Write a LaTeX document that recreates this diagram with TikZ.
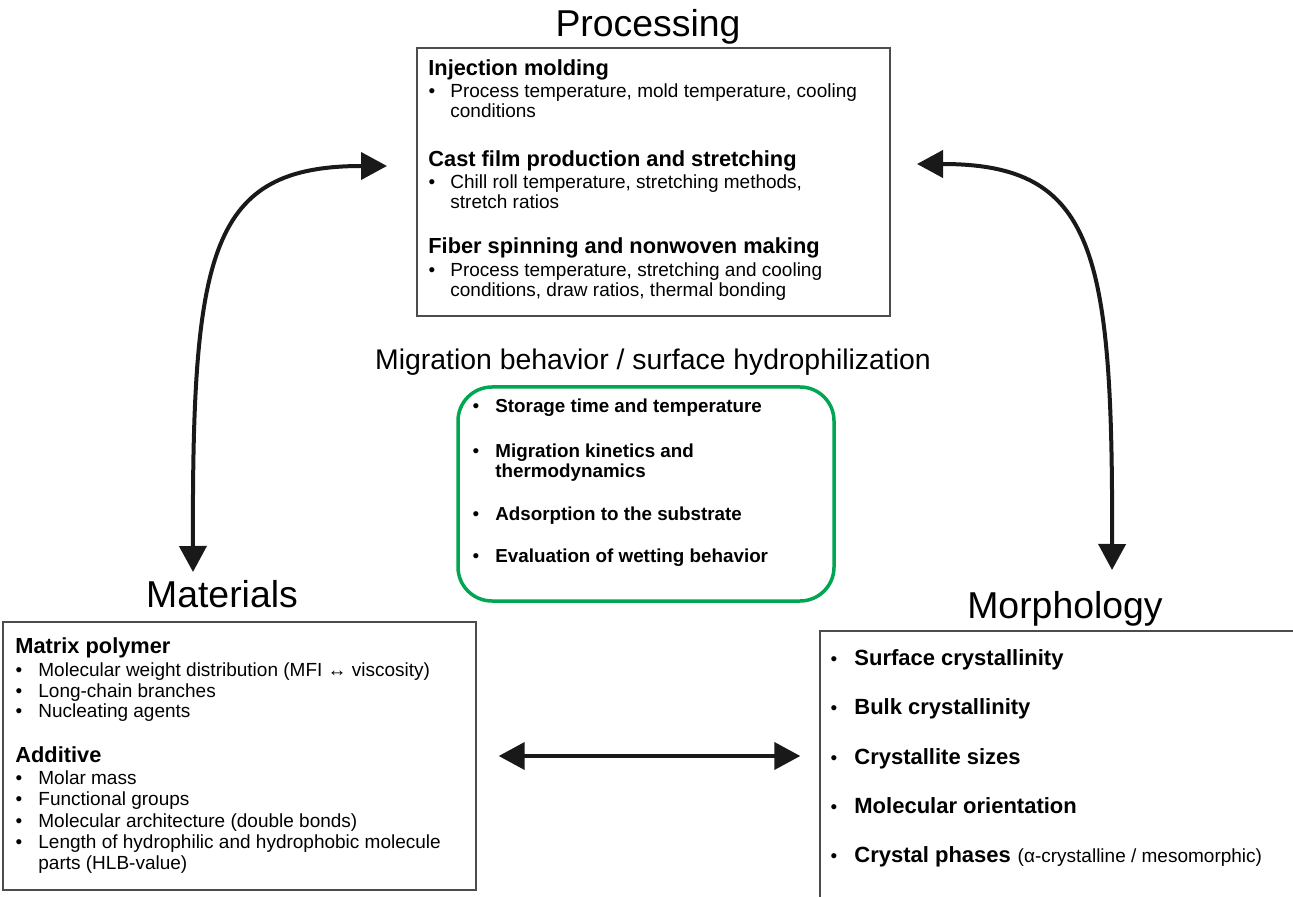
\documentclass[tikz,border=0pt]{standalone}
\usepackage{fontspec}
\setmainfont{Liberation Sans}
\usetikzlibrary{arrows.meta,positioning,fit}
\definecolor{migrgreen}{RGB}{0,166,81}
\tikzset{
	txt/.style={inner sep=0pt,anchor=base west,font=\fontsize{9.5}{10}\selectfont},
	bul/.style={txt,anchor=base},
	hd/.style={txt,font=\bfseries\fontsize{10.9}{12}\selectfont},
	bt/.style={txt,font=\bfseries\fontsize{9.4}{10}\selectfont},
	bm/.style={txt,font=\bfseries\fontsize{11}{12}\selectfont},
	title/.style={inner sep=0pt,anchor=base,font=\fontsize{18.7}{20}\selectfont},
	frame/.style={draw=black!70,line width=.7pt,inner sep=0pt},
	link/.style={line width=2pt,black!90,{Triangle[length=13pt,width=13.5pt]}-{Triangle[length=13pt,width=13.5pt]}}
}
\begin{document}
\begin{tikzpicture}[x=.5pt,y=-.5pt]
	\useasboundingbox[fill=white] (0,0) rectangle (1293,897);
	\clip (0,0) rectangle (1293,897);
	% boxes
	\node[frame,fit={(417,48) (890,316)}] (proc) {};
	\node[frame,fit={(3,622) (476,890)}] (mat) {};
	\node[frame,fit={(820,631) (1320,930)}] (morph) {};
	\node[draw=migrgreen,line width=1.75pt,rounded corners=17pt,inner sep=0pt,fit={(458,387) (834,601)}] (migr) {};
	% titles
	\node[title] (tproc) at (648,37) {Processing};
	\node[title] (tmat) at (222,607) {Materials};
	\node[title] (tmorph) at (1065,618) {Morphology};
	\node[title,font=\fontsize{14.2}{16}\selectfont] (tmigr) at (653,370) {Migration behavior / surface hydrophilization};
	% processing
	\node[hd] (p1) at (428,76) {Injection molding};
	\node[hd] (p2) at (428,167) {Cast film production and stretching};
	\node[hd] (p3) at (428,254) {Fiber spinning and nonwoven making};
	\foreach \y/\t [count=\i] in {98/{Process temperature, mold temperature, cooling},118/{conditions},189/{Chill roll temperature, stretching methods,},209/{stretch ratios},277/{Process temperature, stretching and cooling},297/{conditions, draw ratios, thermal bonding}}
		\node[txt] (pl\i) at (450,\y) {\t};
	\foreach \y in {98,189,277}
		\node[bul] (pb\y) at (432,\y) {•};
	% materials
	\node[hd] (m1) at (15,653) {Matrix polymer};
	\node[hd] (m2) at (15,762) {Additive};
	\foreach \y/\t [count=\i] in {676/{Molecular weight distribution (MFI ↔ viscosity)},697/{Long-chain branches},717/{Nucleating agents},784/{Molar mass},805/{Functional groups},827/{Molecular architecture (double bonds)},848/{Length of hydrophilic and hydrophobic molecule},869/{parts (HLB-value)}}
		\node[txt] (ml\i) at (38,\y) {\t};
	\foreach \y in {676,697,717,784,805,827,848}
		\node[bul] (mb\y) at (19,\y) {•};
	% migration
	\foreach \y/\t [count=\i] in {413/{Storage time and temperature},457/{Migration kinetics and},477/{thermodynamics},520/{Adsorption to the substrate},562/{Evaluation of wetting behavior}}
		\node[bt] (gl\i) at (495,\y) {\t};
	\foreach \y in {413,457,520,562}
		\node[bul] (gb\y) at (476,\y) {•};
	% morphology
	\foreach \y/\t [count=\i] in {665/{Surface crystallinity},714/{Bulk crystallinity},764/{Crystallite sizes},813/{Molecular orientation},862/{Crystal phases}}
		\node[bm] (ol\i) at (854,\y) {\t};
	\node[txt,right=3pt of ol5.base east,anchor=base west] (ol6) {(α-crystalline / mesomorphic)};
	\foreach \y in {665,714,764,813,862}
		\node[bul] (ob\y) at (834,\y) {•};
	% connectors
	\coordinate (matup) at (193,572);
	\coordinate (procl) at (387,166);
	\coordinate (procr) at (917,164);
	\coordinate (morphup) at (1112,570);
	\draw[link] (matup) .. controls (192,250) and (210,166) .. (procl);
	\draw[link] (morphup) .. controls (1113,250) and (1095,164) .. (procr);
	\draw[link,shorten <=11pt,shorten >=9.5pt] (mat.east) -- (mat.east -| morph.west);
\end{tikzpicture}
\end{document}
